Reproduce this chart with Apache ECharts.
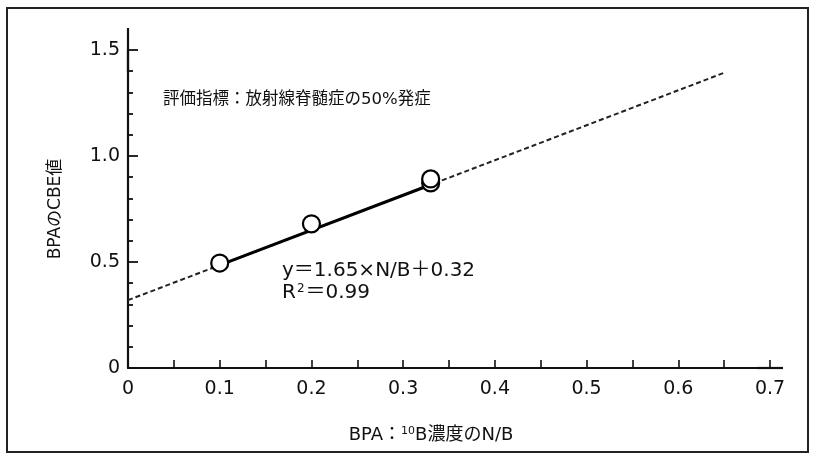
<!DOCTYPE html>
<html>
<head>
<meta charset="utf-8">
<script src="https://cdn.jsdelivr.net/npm/echarts@6/dist/echarts.min.js"></script>
<style>
html,body{margin:0;padding:0;background:#fff;}
#c{width:817px;height:454px;}
</style>
</head>
<body>
<div id="c"></div>
<script>
// Data
const pointsX = [0.1, 0.2, 0.33, 0.33];
const pointsY = [0.495, 0.68, 0.873, 0.892];
const fitDashX = [0, 0.65];
const fitDashY = [0.32, 1.3925];
const fitSolidX = [0.1, 0.33];
const fitSolidY = [0.485, 0.8645];
const xTickLabels = ['0', '0.1', '0.2', '0.3', '0.4', '0.5', '0.6', '0.7'];
const yTickLabels = ['0', '0.5', '1.0', '1.5'];
const annotation = '評価指標：放射線脊髄症の50%発症';
const equation1 = 'y＝1.65×N/B＋0.32';
const xName = 'BPA：{sup|10}B濃度のN/B';
const yName = 'BPAのCBE値';

const FONT = '"DejaVu Sans", "Noto Sans CJK JP", sans-serif';
const chart = echarts.init(document.getElementById('c'));
const pair = (xs, ys) => xs.map((x, i) => [x, ys[i]]);

chart.setOption({
  animation: false,
  backgroundColor: '#fff',
  grid: { left: 128, right: 47, top: 50, bottom: 86, containLabel: false },
  xAxis: {
    type: 'value', min: 0, max: 0.7, interval: 0.05,
    splitLine: { show: false },
    axisLine: { show: true, lineStyle: { color: '#111', width: 2.2 }, symbol: ['none', 'rect'], symbolSize: [2.2, 26] },
    axisTick: { show: true, inside: true, length: 8, lineStyle: { color: '#111', width: 1.6 } },
    axisLabel: {
      margin: 12, color: '#111', fontSize: 19, fontFamily: FONT,
      formatter: v => {
        const k = Math.round(v * 100);
        if (k % 10 !== 0) return '';
        return xTickLabels[k / 10];
      }
    },
    name: xName, nameLocation: 'middle', nameGap: 58,
    nameTextStyle: {
      color: '#111', fontSize: 18, fontFamily: FONT, padding: [0, 36, 0, 0],
      rich: { sup: { fontSize: 11, fontFamily: FONT, color: '#111', padding: [0, 0, 8, 0] } }
    }
  },
  yAxis: {
    type: 'value', min: 0, max: 1.5, interval: 0.5,
    splitLine: { show: false },
    axisLine: { show: true, lineStyle: { color: '#111', width: 2.2 }, symbol: ['none', 'rect'], symbolSize: [2.2, 44] },
    axisTick: { show: true, inside: true, length: 10, lineStyle: { color: '#111', width: 1.8 } },
    minorTick: { show: true, splitNumber: 5, length: 5, lineStyle: { color: '#111', width: 1.8 } },
    minorSplitLine: { show: false },
    axisLabel: {
      margin: 8, color: '#111', fontSize: 19, fontFamily: FONT,
      formatter: v => yTickLabels[Math.round(v * 2)]
    },
    name: yName, nameLocation: 'middle', nameGap: 64, nameRotate: 90,
    nameTextStyle: { color: '#111', fontSize: 17, fontFamily: FONT }
  },
  series: [
    {
      type: 'line', data: pair(fitDashX, fitDashY), showSymbol: false, symbol: 'none',
      lineStyle: { color: '#222', width: 2, type: [5, 3] }, z: 2
    },
    {
      type: 'line', data: pair(fitSolidX, fitSolidY), showSymbol: false, symbol: 'none',
      lineStyle: { color: '#000', width: 3 }, z: 3
    },
    {
      type: 'scatter', data: pair(pointsX, pointsY), symbol: 'circle', symbolSize: 17,
      itemStyle: { color: '#fff', borderColor: '#000', borderWidth: 2.2, opacity: 1 }, z: 4
    }
  ],
  graphic: [
    { type: 'rect', shape: { x: 7, y: 8, width: 801, height: 444 }, style: { fill: 'none', stroke: '#222', lineWidth: 2 }, silent: true },
    { type: 'text', left: 163, top: 91, style: { text: annotation, font: '16.5px ' + FONT, fill: '#111' } },
    { type: 'text', left: 282, top: 261, style: { text: equation1, font: '20px ' + FONT, fill: '#111' } },
    { type: 'text', left: 282, top: 283, style: {
        text: 'R{sup|2}＝0.99', font: '20px ' + FONT, fill: '#111',
        rich: { sup: { fontSize: 12, fontFamily: FONT, fill: '#111', padding: [0, 1, 8, 1] } }
    } }
  ]
});
</script>
</body>
</html>
